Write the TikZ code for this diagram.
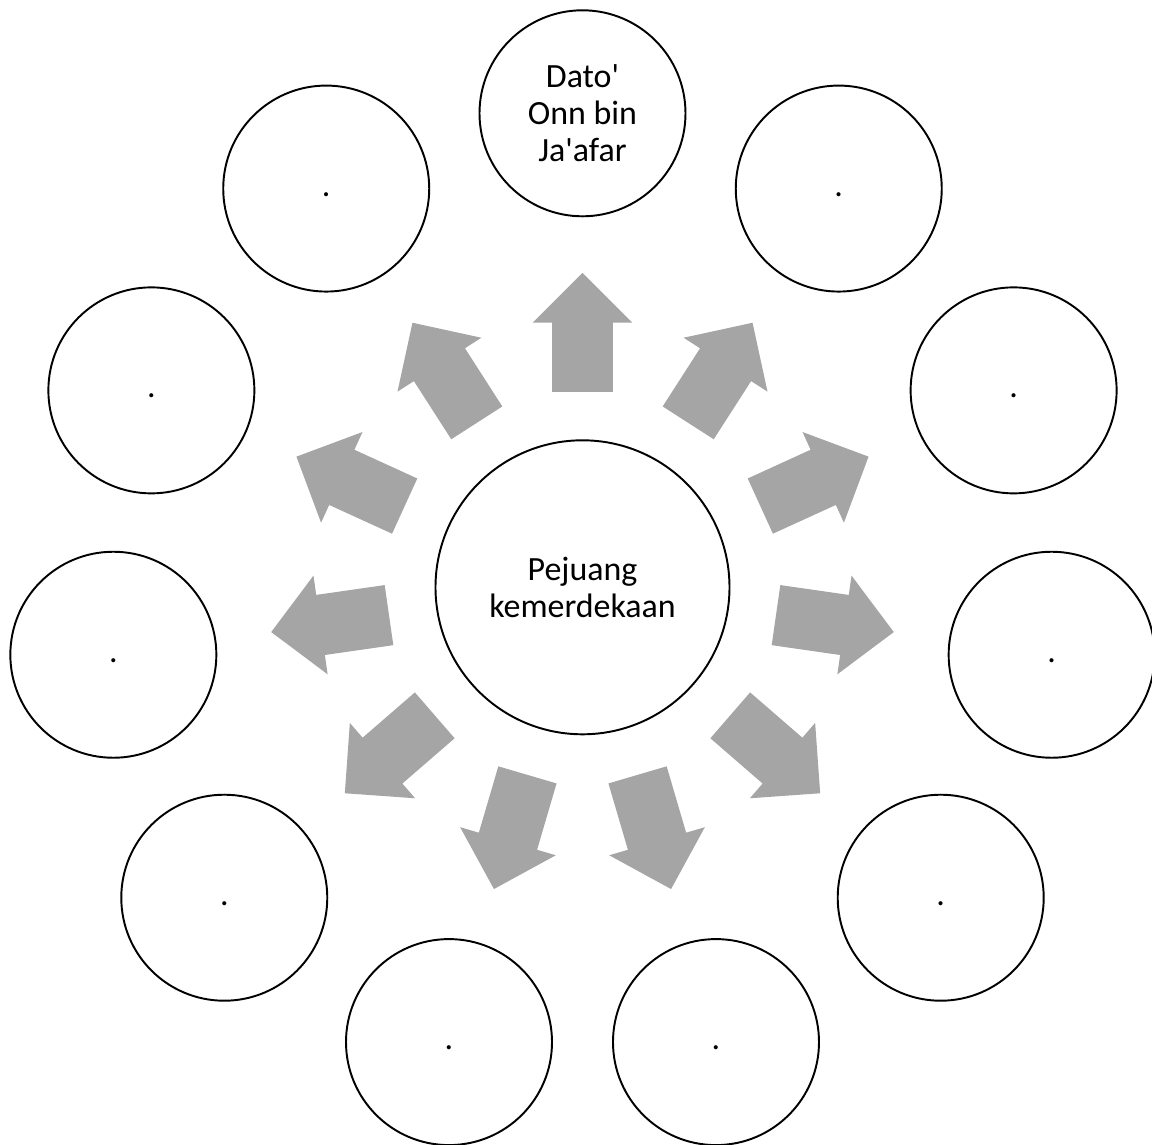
\documentclass[tikz,border=0pt]{standalone}
\usepackage{fontspec}
\setmainfont{Carlito}[Ligatures=TeXOff]
\usetikzlibrary{shapes.arrows}
\definecolor{arrcol}{HTML}{A5A5A5}
\tikzstyle{hub}=[circle, draw, line width=1.1pt, inner sep=0pt, minimum size=5.88cm, align=center, font=\fontsize{19.3}{21.2}\selectfont]
\tikzstyle{leaf}=[hub, minimum size=4.12cm]
\tikzstyle{spoke}=[single arrow, fill=arrcol, draw=none, inner xsep=0pt, inner ysep=0.6cm, outer sep=0pt, minimum height=2.38cm, single arrow head extend=0.39cm, single arrow tip angle=90, anchor=tail]

\begin{document}
\begin{tikzpicture}
	\useasboundingbox (-11.65,-11.134) rectangle (11.39,11.746);
	% centre
	\node[hub] (c) at (0,0) {Pejuang\\kemerdekaan};
	% ring of circles
	\node[leaf] (n0) at (90:9.48) {Dato'\\Onn bin\\Ja'afar};
	\node[leaf] (n1) at (57.27:9.48) {.\strut};
	\node[leaf] (n2) at (24.55:9.48) {.\strut};
	\node[leaf] (n3) at (-8.18:9.48) {.\strut};
	\node[leaf] (n4) at (-40.91:9.48) {.\strut};
	\node[leaf] (n5) at (-73.64:9.48) {.\strut};
	\node[leaf] (n6) at (-106.36:9.48) {.\strut};
	\node[leaf] (n7) at (-139.09:9.48) {.\strut};
	\node[leaf] (n8) at (-171.82:9.48) {.\strut};
	\node[leaf] (n9) at (155.45:9.48) {.\strut};
	\node[leaf] (n10) at (122.73:9.48) {.\strut};
	% arrows
	\node[spoke, rotate=90] (a0) at (90:3.91) {};
	\node[spoke, rotate=57.27] (a1) at (57.27:3.91) {};
	\node[spoke, rotate=24.55] (a2) at (24.55:3.91) {};
	\node[spoke, rotate=-8.18] (a3) at (-8.18:3.91) {};
	\node[spoke, rotate=-40.91] (a4) at (-40.91:3.91) {};
	\node[spoke, rotate=-73.64] (a5) at (-73.64:3.91) {};
	\node[spoke, rotate=-106.36] (a6) at (-106.36:3.91) {};
	\node[spoke, rotate=-139.09] (a7) at (-139.09:3.91) {};
	\node[spoke, rotate=-171.82] (a8) at (-171.82:3.91) {};
	\node[spoke, rotate=155.45] (a9) at (155.45:3.91) {};
	\node[spoke, rotate=122.73] (a10) at (122.73:3.91) {};
\end{tikzpicture}
\end{document}
